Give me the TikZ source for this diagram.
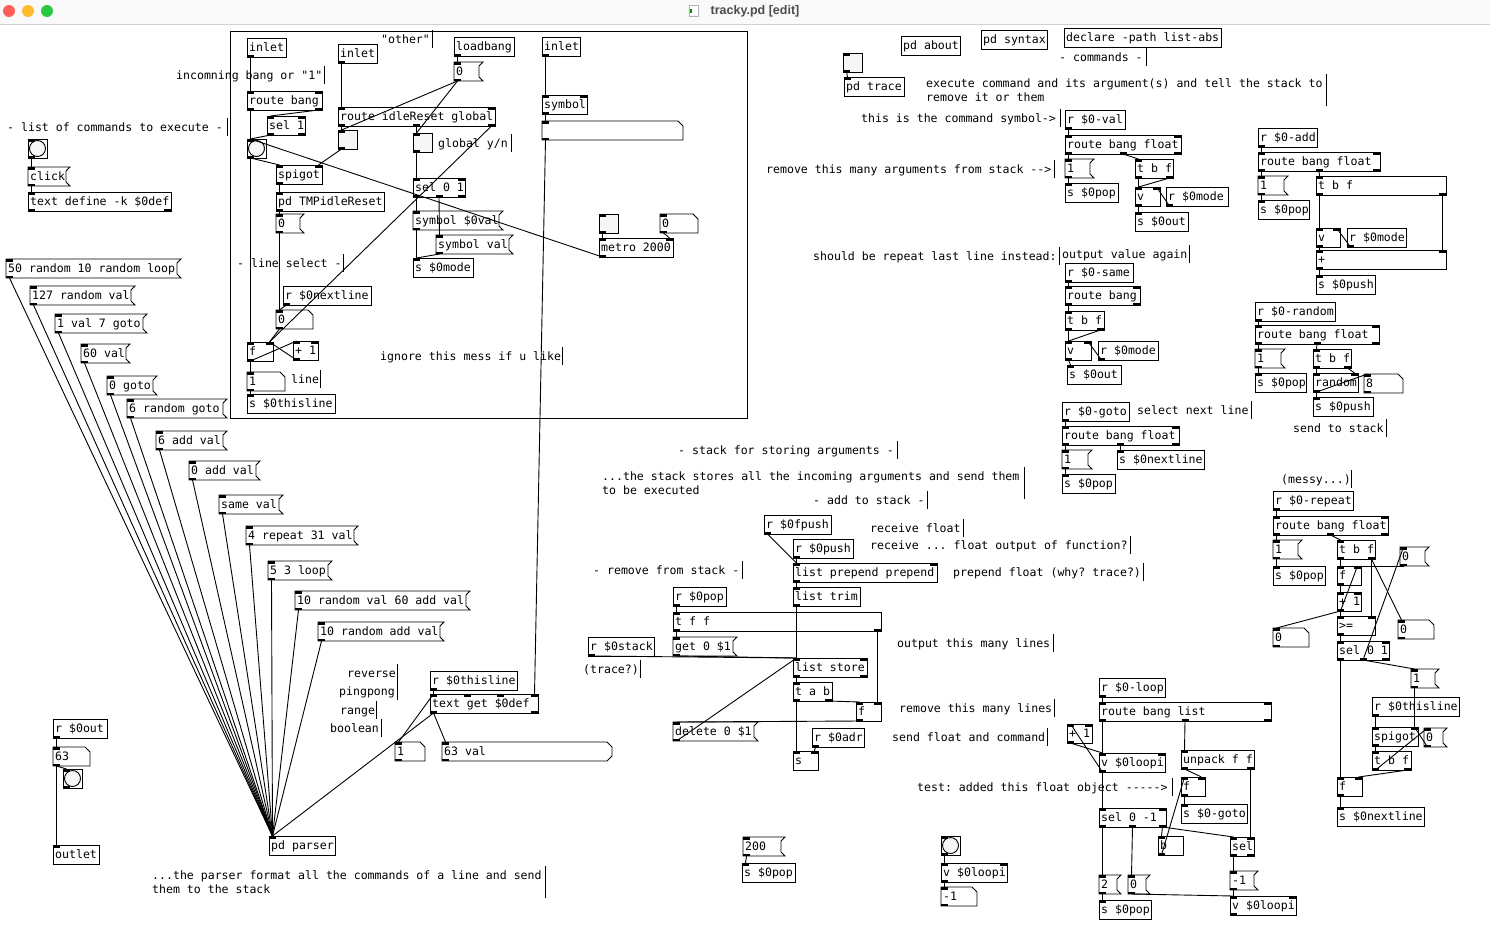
\documentclass[tikz,border=0pt]{standalone}
\usepackage{fontspec}
\setmonofont{DejaVu Sans Mono}
\newfontfamily\titlefont{Liberation Sans}
\definecolor{tgl}{gray}{0.965}
\definecolor{titlebg}{gray}{0.975}
\definecolor{titleline}{gray}{0.82}
\definecolor{macred}{HTML}{FF5F57}
\definecolor{macyel}{HTML}{FEBC2E}
\definecolor{macgrn}{HTML}{28C840}
\definecolor{titletxt}{gray}{0.3}
\tikzset{
  pdl/.style={line width=0.9pt},
  conn/.style={line width=0.9pt},
  pdt/.style={font=\ttfamily\fontsize{11.55}{13}\selectfont, inner sep=0pt, anchor=base west},
}
\newcommand\iol[6]{%
  \ifnum#5>0
  \foreach \k in {1,...,#5}{%
    \ifnum#5=1 \pgfmathsetmacro\xx{#2}\else\pgfmathsetmacro\xx{#2+(\k-1)*(#4-7)/(#5-1)}\fi
    \fill (\xx,#3) rectangle (\xx+7,#3+2.5);
    \coordinate (#1-i\k) at (\xx+3.5,#3);
  }%
  \fi
  \ifnum#6>0
  \foreach \k in {1,...,#6}{%
    \ifnum#6=1 \pgfmathsetmacro\xx{#2}\else\pgfmathsetmacro\xx{#2+(\k-1)*(#4-7)/(#6-1)}\fi
    \fill (\xx,#3+16.5) rectangle (\xx+7,#3+19);
    \coordinate (#1-o\k) at (\xx+3.5,#3+19);
  }%
  \fi}
\newcommand\pdobj[7]{%
  \draw[pdl] (#2,#3) rectangle (#2+#4,#3+19);
  \node[pdt] (#1) at (#2+2,#3+13.5) {#7};
  \iol{#1}{#2}{#3}{#4}{#5}{#6}}
\newcommand\pdmsg[5]{%
  \draw[pdl] (#2,#3) -- (#2+#4,#3) -- (#2+#4-4,#3+4) -- (#2+#4-4,#3+15) -- (#2+#4,#3+19) -- (#2,#3+19) -- cycle;
  \node[pdt] (#1) at (#2+2,#3+13.5) {#5};
  \iol{#1}{#2}{#3}{#4}{1}{1}}
\newcommand\pdatom[5]{%
  \draw[pdl] (#2,#3) -- (#2+#4-5,#3) -- (#2+#4,#3+5) -- (#2+#4,#3+19) -- (#2,#3+19) -- cycle;
  \node[pdt] (#1) at (#2+2,#3+13.5) {#5};
  \iol{#1}{#2}{#3}{#4}{1}{1}}
\newcommand\pdlist[5]{%
  \draw[pdl] (#2,#3) -- (#2+#4-5,#3) -- (#2+#4,#3+5) -- (#2+#4,#3+14) -- (#2+#4-5,#3+19) -- (#2,#3+19) -- cycle;
  \node[pdt] (#1) at (#2+2,#3+13.5) {#5};
  \iol{#1}{#2}{#3}{#4}{1}{1}}
\newcommand\pdtgl[3]{%
  \draw[pdl,fill=tgl] (#2,#3) rectangle (#2+19,#3+19);
  \coordinate (#1) at (#2+9.5,#3+9.5);
  \iol{#1}{#2}{#3}{19}{1}{1}}
\newcommand\pdbng[3]{%
  \draw[pdl] (#2,#3) rectangle (#2+19,#3+19);
  \draw[pdl,fill=tgl] (#2+9.5,#3+9.5) circle (8pt);
  \coordinate (#1) at (#2+9.5,#3+9.5);
  \iol{#1}{#2}{#3}{19}{1}{1}}
\newcommand\pdcom[5]{%
  \node[pdt] (#1) at (#2,#3+4.2) {#5};
  \draw[pdl] (#4,#3-9) -- (#4,#3+9);}
\newcommand\pdcomii[7]{%
  \node[pdt] (#1) at (#2,#3+4.2) {#6};
  \node[pdt] (#1b) at (#2,#4+4.2) {#7};
  \draw[pdl] (#5,#3-9) -- (#5,#4+9);}
\newcommand\cn[2]{\draw[conn] (#1) -- (#2);}
\begin{document}
\begin{tikzpicture}[x=1pt,y=-1pt]
\useasboundingbox (0,0) rectangle (1490,945);
\fill[white] (0,0) rectangle (1490,945);
% title bar
\fill[titlebg] (0,0) rectangle (1490,24);
\draw[titleline, line width=1pt] (0,24.5) -- (1490,24.5);
\fill[macred] (9,11) circle (6pt);
\fill[macyel] (28,11) circle (6pt);
\fill[macgrn] (47,11) circle (6pt);
\draw[gray!60, fill=white, line width=0.5pt] (689,5) rectangle (698,16);
\fill[green!55!black] (690,9) rectangle (692,13);
\node[font=\titlefont\bfseries\fontsize{12.5}{14}\selectfont, text=titletxt] (title) at (755,11) {tracky.pd [edit]};

% ---------- subpatch ----------
\draw[pdl] (230,31) rectangle (747,418);
\pdobj{sinA}{247}{38}{39}{0}{1}{inlet}
\pdobj{sinB}{338}{44}{39}{0}{1}{inlet}
\pdobj{sload}{454}{37}{60}{0}{1}{loadbang}
\pdmsg{smsgz}{454}{62}{29}{0}
\pdobj{sinC}{542}{37}{38}{0}{1}{inlet}
\pdobj{srb}{247}{91}{75}{2}{2}{route bang}
\pdobj{ssel}{267}{116}{38}{2}{2}{sel 1}
\pdobj{sridle}{338}{107}{157}{2}{3}{route idleReset global}
\pdtgl{stga}{338}{130}
\pdtgl{stgb}{413}{133}
\pdbng{sbng}{247}{139}
\pdobj{sspig}{276}{165}{46}{2}{1}{spigot}
\pdobj{ssel01}{413}{178}{52}{2}{3}{sel 0 1}
\pdobj{stmp}{276}{192}{108}{1}{1}{pd TMPidleReset}
\pdmsg{ssymz}{413}{211}{90}{symbol \$0val}
\pdmsg{ssymv}{436}{235}{77}{symbol val}
\pdmsg{smsgzb}{276}{214}{28}{0}
\pdobj{smode}{413}{258}{60}{1}{0}{s \$0mode}
\pdobj{srnext}{283}{286}{88}{0}{1}{r \$0nextline}
\pdatom{snumz}{276}{310}{37}{0}
\pdobj{sf}{247}{342}{26}{2}{1}{f}
\pdobj{splus}{293}{341}{25}{2}{1}{+ 1}
\pdatom{snumo}{247}{372}{38}{1}
\pdobj{sthis}{247}{394}{88}{1}{0}{s \$0thisline}
\pdobj{ssym}{542}{95}{45}{2}{1}{symbol}
\pdatom{ssymat}{542}{121}{141}{}
\pdtgl{stgc}{599}{214}
\pdatom{snumc}{660}{214}{38}{0}
\pdobj{smetro}{599}{238}{74}{2}{1}{metro 2000}
\pdcom{c1}{176}{75}{324}{incomning bang or "1"}
\pdcom{c2}{381}{39}{432}{"other"}
\pdcom{c4}{438}{143}{511}{global y/n}
\pdcom{c5}{237}{263}{343}{- line select -}
\pdcom{c6}{380}{356}{562}{ignore this mess if u like}
\pdcom{c7}{291}{379}{320}{line}

\cn{sinA-o1}{srb-i1}
\cn{srb-o1}{sbng-i1}
\cn{srb-o2}{ssel-i1}
\cn{ssel-o1}{sbng-i1}
\cn{sbng-o1}{sspig-i1}
\cn{sbng-o1}{sf-i1}
\cn{smetro-o1}{sbng-i1}
\cn{sinB-o1}{sridle-i1}
\cn{sridle-o1}{stga-i1}
\cn{sridle-o2}{stgb-i1}
\cn{sridle-o3}{sf-i2}
\cn{sload-o1}{smsgz-i1}
\cn{smsgz-o1}{stga-i1}
\cn{smsgz-o1}{stgb-i1}
\cn{stga-o1}{sspig-i2}
\cn{stgb-o1}{ssel01-i1}
\cn{sspig-o1}{stmp-i1}
\cn{stmp-o1}{smsgzb-i1}
\cn{smsgzb-o1}{snumz-i1}
\cn{srnext-o1}{snumz-i1}
\cn{snumz-o1}{sf-i2}
\cn{sf-o1}{splus-i1}
\cn{splus-o1}{sf-i2}
\cn{sf-o1}{snumo-i1}
\cn{snumo-o1}{sthis-i1}
\cn{ssel01-o1}{ssymz-i1}
\cn{ssel01-o2}{ssymv-i1}
\cn{ssymz-o1}{smode-i1}
\cn{ssymv-o1}{smode-i1}
\cn{sinC-o1}{ssym-i1}
\cn{ssym-o1}{ssymat-i1}
\cn{stgc-o1}{smetro-i1}
\cn{snumc-o1}{smetro-i2}

% ---------- left ----------
\pdcom{c3}{7}{127}{227}{- list of commands to execute -}
\pdbng{bangL}{28}{139}
\pdmsg{click}{28}{167}{42}{click}
\pdobj{tdef}{28}{192}{143}{1}{2}{text define -k \$0def}
\cn{bangL-o1}{click-i1}
\cn{click-o1}{tdef-i1}

\pdmsg{ma}{6}{259}{175}{50 random 10 random loop}
\pdmsg{mb}{30}{286}{105}{127 random val}
\pdmsg{mc}{55}{314}{92}{1 val 7 goto}
\pdmsg{md}{81}{344}{49}{60 val}
\pdmsg{me}{107}{376}{50}{0 goto}
\pdmsg{mf}{127}{399}{100}{6 random goto}
\pdmsg{mg}{156}{431}{71}{6 add val}
\pdmsg{mh}{189}{461}{71}{0 add val}
\pdmsg{mi}{219}{495}{64}{same val}
\pdmsg{mj}{246}{526}{112}{4 repeat 31 val}
\pdmsg{mk}{268}{561}{64}{5 3 loop}
\pdmsg{ml}{295}{591}{175}{10 random val 60 add val}
\pdmsg{mm}{318}{622}{126}{10 random add val}

\pdcom{crev}{347}{673}{397}{reverse}
\pdcom{cping}{339}{691}{397}{pingpong}
\pdcom{crange}{340}{710}{376}{range}
\pdcom{cbool}{330}{728}{381}{boolean}

\pdobj{rthis}{430}{671}{87}{0}{1}{r \$0thisline}
\pdobj{tget}{430}{694}{108}{4}{2}{text get \$0def}
\pdatom{numo}{395}{742}{30}{1}
\pdlist{lsix}{442}{742}{170}{63 val}
\pdobj{parser}{269}{836}{66}{1}{0}{pd parser}
\pdcomii{cparse}{152}{875}{889}{545}{...the parser format all the commands of a line and send}{them to the stack}

\foreach \m in {ma,mb,mc,md,me,mf,mg,mh,mi,mj,mk,ml,mm}{\cn{\m-o1}{parser-i1}}
\cn{rthis-o1}{tget-i1}
\cn{numo-i1}{tget-i1}
\cn{tget-o1}{parser-i1}
\cn{tget-o1}{lsix-i1}
\cn{ssymat-o1}{tget-i4}

\pdobj{rout}{53}{719}{54}{0}{1}{r \$0out}
\pdatom{nsix}{53}{747}{37}{63}
\pdbng{bangO}{63}{769}
\pdobj{outlet}{53}{845}{46}{1}{0}{outlet}
\cn{rout-o1}{nsix-i1}
\cn{nsix-o1}{bangO-i1}
\cn{nsix-o1}{outlet-i1}

% ---------- top right ----------
\pdobj{pdabout}{901}{36}{59}{0}{0}{pd about}
\pdobj{pdsyntax}{981}{30}{66}{0}{0}{pd syntax}
\pdobj{declare}{1064}{28}{157}{0}{0}{declare -path list-abs}
\pdcom{c8}{1059}{57}{1146}{- commands -}
\pdtgl{tgT}{843}{53}
\pdobj{pdtrace}{844}{77}{60}{1}{0}{pd trace}
\cn{tgT-o1}{pdtrace-i1}
\pdcomii{c9}{926}{83}{97}{1326}{execute command and its argument(s) and tell the stack to}{remove it or them}
\pdcom{c10}{861}{118}{1060}{this is the command symbol->}
\pdcom{c11}{766}{169}{1054}{remove this many arguments from stack -{}->}

\pdobj{rval}{1065}{110}{60}{0}{1}{r \$0-val}
\pdobj{rbfa}{1065}{135}{116}{2}{3}{route bang float}
\pdmsg{msga}{1065}{159}{29}{1}
\pdobj{spopa}{1065}{183}{53}{1}{0}{s \$0pop}
\pdobj{tbfa}{1135}{159}{38}{1}{2}{t b f}
\pdobj{va}{1135}{187}{25}{2}{1}{v}
\pdobj{rmodea}{1166}{187}{62}{0}{1}{r \$0mode}
\pdobj{souta}{1135}{212}{53}{1}{0}{s \$0out}
\cn{rval-o1}{rbfa-i1}
\cn{rbfa-o1}{msga-i1}
\cn{msga-o1}{spopa-i1}
\cn{rbfa-o2}{tbfa-i1}
\cn{tbfa-o1}{va-i1}
\cn{tbfa-o2}{va-i1}
\cn{rmodea-o1}{va-i2}
\cn{va-o1}{souta-i1}

\pdcom{c12}{813}{256}{1059}{should be repeat last line instead:}
\pdcom{c13}{1062}{254}{1189}{output value again}
\pdobj{rsame}{1065}{263}{68}{0}{1}{r \$0-same}
\pdobj{rbb}{1065}{286}{75}{2}{2}{route bang}
\pdobj{tbfb}{1065}{311}{39}{1}{2}{t b f}
\pdobj{vb}{1065}{341}{26}{2}{1}{v}
\pdobj{rmodeb}{1098}{341}{60}{0}{1}{r \$0mode}
\pdobj{soutb}{1067}{365}{54}{1}{0}{s \$0out}
\cn{rsame-o1}{rbb-i1}
\cn{rbb-o1}{tbfb-i1}
\cn{tbfb-o1}{vb-i1}
\cn{tbfb-o2}{vb-i1}
\cn{rmodeb-o1}{vb-i2}
\cn{vb-o1}{soutb-i1}

\pdobj{rgoto}{1062}{402}{67}{0}{1}{r \$0-goto}
\pdcom{c14}{1137}{410}{1251}{select next line}
\pdobj{rbfc}{1062}{426}{117}{2}{3}{route bang float}
\pdmsg{msgc}{1062}{450}{30}{1}
\pdobj{snext}{1117}{450}{87}{1}{0}{s \$0nextline}
\pdobj{spopc}{1062}{474}{53}{1}{0}{s \$0pop}
\cn{rgoto-o1}{rbfc-i1}
\cn{rbfc-o1}{msgc-i1}
\cn{msgc-o1}{spopc-i1}
\cn{rbfc-o2}{snext-i1}

% add
\pdobj{radd}{1258}{128}{59}{0}{1}{r \$0-add}
\pdobj{rbfd}{1258}{152}{122}{2}{3}{route bang float}
\pdmsg{msgd}{1258}{176}{30}{1}
\pdobj{spopd}{1258}{200}{51}{1}{0}{s \$0pop}
\pdobj{tbfd}{1316}{176}{130}{1}{2}{t b f}
\pdobj{vd}{1316}{228}{24}{2}{1}{v}
\pdobj{rmoded}{1347}{228}{59}{0}{1}{r \$0mode}
\pdobj{plusd}{1316}{250}{130}{2}{1}{+}
\pdobj{spushd}{1316}{275}{59}{1}{0}{s \$0push}
\cn{radd-o1}{rbfd-i1}
\cn{rbfd-o1}{msgd-i1}
\cn{msgd-o1}{spopd-i1}
\cn{rbfd-o2}{tbfd-i1}
\cn{tbfd-o1}{vd-i1}
\cn{tbfd-o2}{plusd-i2}
\cn{rmoded-o1}{vd-i2}
\cn{vd-o1}{plusd-i1}
\cn{plusd-o1}{spushd-i1}

% random
\pdobj{rrand}{1255}{302}{80}{0}{1}{r \$0-random}
\pdobj{rbfe}{1255}{325}{124}{2}{3}{route bang float}
\pdmsg{msge}{1255}{349}{30}{1}
\pdobj{spope}{1255}{373}{51}{1}{0}{s \$0pop}
\pdobj{tbfe}{1313}{349}{38}{1}{2}{t b f}
\pdobj{rnd}{1313}{373}{45}{2}{1}{random}
\pdatom{neight}{1364}{374}{39}{8}
\pdobj{spushe}{1313}{397}{60}{1}{0}{s \$0push}
\pdcom{c15}{1293}{428}{1386}{send to stack}
\cn{rrand-o1}{rbfe-i1}
\cn{rbfe-o1}{msge-i1}
\cn{msge-o1}{spope-i1}
\cn{rbfe-o2}{tbfe-i1}
\cn{tbfe-o1}{rnd-i1}
\cn{tbfe-o2}{rnd-i2}
\cn{rnd-o1}{neight-i1}
\cn{rnd-o1}{spushe-i1}

% repeat
\pdcom{c16}{1281}{479}{1351}{(messy...)}
\pdobj{rrep}{1273}{491}{80}{0}{1}{r \$0-repeat}
\pdobj{rbff}{1273}{516}{115}{2}{3}{route bang float}
\pdmsg{msgf}{1273}{540}{29}{1}
\pdobj{spopf}{1273}{566}{52}{1}{0}{s \$0pop}
\pdobj{tbff}{1337}{540}{38}{1}{2}{t b f}
\pdmsg{msgzf}{1400}{547}{29}{0}
\pdobj{ff}{1337}{566}{24}{2}{1}{f}
\pdobj{plusf}{1337}{592}{24}{2}{1}{+ 1}
\pdobj{gef}{1337}{616}{38}{2}{1}{>=}
\pdatom{nzf}{1273}{628}{36}{0}
\pdatom{nzg}{1398}{620}{36}{0}
\pdobj{self}{1337}{641}{52}{2}{3}{sel 0 1}
\pdmsg{msgof}{1411}{669}{28}{1}
\pdobj{rthisf}{1372}{697}{87}{0}{1}{r \$0thisline}
\pdobj{spigf}{1372}{727}{46}{2}{1}{spigot}
\pdmsg{msgzs}{1424}{728}{23}{0}
\pdobj{tbfg}{1372}{751}{39}{1}{2}{t b f}
\pdobj{ffb}{1337}{777}{25}{2}{1}{f}
\pdobj{snextf}{1337}{807}{87}{1}{0}{s \$0nextline}
\cn{rrep-o1}{rbff-i1}
\cn{rbff-o1}{msgf-i1}
\cn{msgf-o1}{spopf-i1}
\cn{rbff-o2}{tbff-i1}
\cn{tbff-o1}{ff-i1}
\cn{msgzf-o1}{ff-i2}
\cn{tbff-o2}{gef-i2}
\cn{tbff-o2}{nzg-i1}
\cn{ff-o1}{plusf-i1}
\cn{plusf-o1}{ff-i2}
\cn{plusf-o1}{gef-i1}
\cn{plusf-o1}{nzf-i1}
\cn{gef-o1}{self-i1}
\cn{self-o2}{msgzf-i1}
\cn{self-o2}{msgof-i1}
\cn{self-o1}{ffb-i1}
\cn{msgof-o1}{spigf-i2}
\cn{rthisf-o1}{spigf-i1}
\cn{tbfg-o1}{msgzs-i1}
\cn{msgzs-o1}{spigf-i2}
\cn{spigf-o1}{tbfg-i1}
\cn{tbfg-o2}{ffb-i2}
\cn{ffb-o1}{snextf-i1}

% loop
\pdobj{rloop}{1099}{678}{66}{0}{1}{r \$0-loop}
\pdobj{rbl}{1099}{702}{172}{2}{3}{route bang list}
\pdobj{plusl}{1067}{724}{25}{2}{1}{+ 1}
\pdobj{vloop}{1099}{753}{66}{2}{1}{v \$0loopi}
\pdobj{unpack}{1181}{750}{73}{1}{2}{unpack f f}
\pdobj{fl}{1181}{777}{24}{2}{1}{f}
\pdobj{sgoto}{1181}{804}{66}{1}{0}{s \$0-goto}
\pdobj{selm}{1099}{808}{67}{2}{3}{sel 0 -1}
\pdobj{bl}{1158}{836}{25}{1}{1}{b}
\pdobj{sell}{1230}{837}{24}{2}{2}{sel}
\pdmsg{msgtwo}{1099}{875}{22}{2}
\pdmsg{msgzl}{1128}{875}{22}{0}
\pdmsg{msgm}{1230}{871}{28}{-1}
\pdobj{spopl}{1099}{900}{52}{1}{0}{s \$0pop}
\pdobj{vloopb}{1230}{896}{66}{2}{1}{v \$0loopi}
\pdcom{c28}{917}{787}{1172}{test: added this float object -{}-{}-{}-{}->}
\cn{rloop-o1}{rbl-i1}
\cn{rbl-o1}{vloop-i1}
\cn{rbl-o2}{unpack-i1}
\cn{plusl-o1}{vloop-i1}
\cn{vloop-o1}{plusl-i1}
\cn{vloop-o1}{selm-i1}
\cn{unpack-o1}{fl-i2}
\cn{unpack-o2}{sell-i2}
\cn{fl-o1}{sgoto-i1}
\cn{selm-o1}{msgtwo-i1}
\cn{selm-o2}{msgzl-i1}
\cn{selm-o3}{bl-i1}
\cn{selm-o3}{sell-i1}
\cn{bl-o1}{fl-i1}
\cn{sell-o1}{msgm-i1}
\cn{msgtwo-o1}{spopl-i1}
\cn{msgzl-o1}{vloopb-i1}
\cn{msgm-o1}{vloopb-i1}

% stack
\pdcom{c17}{678}{450}{897}{- stack for storing arguments -}
\pdcomii{c18}{602}{476}{490}{1024}{...the stack stores all the incoming arguments and send them}{to be executed}
\pdcom{c19}{813}{500}{927}{- add to stack -}
\pdcom{c20}{870}{528}{963}{receive float}
\pdcom{c21}{870}{545}{1130}{receive ... float output of function?}
\pdcom{c22}{953}{572}{1143}{prepend float (why? trace?)}
\pdcom{c23}{593}{570}{742}{- remove from stack -}
\pdcom{c24}{583}{669}{640}{(trace?)}
\pdcom{c25}{897}{643}{1053}{output this many lines}
\pdcom{c26}{899}{708}{1054}{remove this many lines}
\pdcom{c27}{892}{737}{1047}{send float and command}
\pdobj{rfpush}{764}{515}{67}{0}{1}{r \$0fpush}
\pdobj{rpush}{793}{539}{60}{0}{1}{r \$0push}
\pdobj{lpp}{793}{563}{144}{2}{1}{list prepend prepend}
\pdobj{ltrim}{793}{587}{67}{1}{1}{list trim}
\pdobj{rpop}{673}{587}{53}{0}{1}{r \$0pop}
\pdobj{tff}{673}{612}{208}{1}{2}{t f f}
\pdmsg{getm}{673}{637}{64}{get 0 \$1}
\pdobj{rstack}{588}{637}{66}{0}{1}{r \$0stack}
\pdobj{lstore}{793}{658}{74}{2}{2}{list store}
\pdobj{tab}{793}{682}{39}{1}{2}{t a b}
\pdobj{fst}{856}{702}{25}{2}{1}{f}
\pdmsg{delm}{673}{722}{85}{delete 0 \$1}
\pdobj{radr}{812}{728}{52}{0}{1}{r \$0adr}
\pdobj{sst}{793}{751}{25}{2}{0}{s}
\cn{rfpush-o1}{lpp-i1}
\cn{rpush-o1}{lpp-i1}
\cn{lpp-o1}{ltrim-i1}
\cn{ltrim-o1}{lstore-i1}
\cn{rpop-o1}{tff-i1}
\cn{tff-o1}{getm-i1}
\cn{tff-o2}{fst-i2}
\cn{getm-o1}{lstore-i1}
\cn{rstack-o1}{lstore-i1}
\cn{lstore-o1}{tab-i1}
\cn{delm-o1}{lstore-i1}
\cn{tab-o2}{fst-i1}
\cn{fst-o1}{delm-i1}
\cn{tab-o1}{sst-i1}
\cn{radr-o1}{sst-i2}

% bottom middle
\pdmsg{mtwo}{743}{837}{42}{200}
\pdobj{spopm}{742}{863}{53}{1}{0}{s \$0pop}
\pdbng{bangM}{941}{836}
\pdobj{vloopm}{941}{863}{66}{2}{1}{v \$0loopi}
\pdatom{nmone}{941}{887}{36}{-1}
\cn{mtwo-o1}{spopm-i1}
\cn{bangM-o1}{vloopm-i1}
\cn{vloopm-o1}{nmone-i1}
\end{tikzpicture}
\end{document}
